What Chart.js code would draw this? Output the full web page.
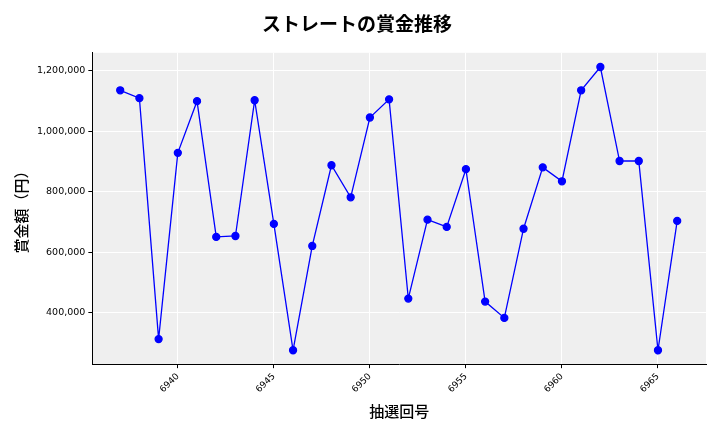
<!DOCTYPE html>
<html><head><meta charset="utf-8">
<script src="https://cdn.jsdelivr.net/npm/chart.js@4/dist/chart.umd.min.js"></script>
<style>body{margin:0;background:#fff}#wrap{width:720px;height:432px}</style>
</head><body><div id="wrap"><canvas id="c"></canvas></div>
<script>
const draws = [6937,6938,6939,6940,6941,6942,6943,6944,6945,6946,6947,6948,6949,6950,6951,6952,6953,6954,6955,6956,6957,6958,6959,6960,6961,6962,6963,6964,6965,6966];
const prizes = [1136000,1110000,313000,929000,1100000,651000,654000,1103000,694000,276000,621000,888000,782000,1046000,1106000,447000,708000,684000,875000,437000,383000,678000,881000,835000,1136000,1213000,902000,902000,276000,704000];

const bgPlugin = {
    id: 'bg',
    beforeDraw(chart) {
        const a = chart.chartArea, ctx = chart.ctx;
        ctx.save();
        ctx.fillStyle = '#efefef';
        ctx.fillRect(a.left, a.top, a.right - a.left, a.bottom - a.top);
        ctx.restore();
    }
};

new Chart(document.getElementById('c'), {
    type: 'line',
    data: {
        datasets: [{
            data: draws.map((d, i) => ({ x: d, y: prizes[i] })),
            borderColor: '#0000ff',
            backgroundColor: '#0000ff',
            borderWidth: 1.3,
            pointRadius: 3.5,
            tension: 0
        }]
    },
    options: {
        responsive: true,
        maintainAspectRatio: false,
        animation: false,
        layout: { padding: { left: 8, right: 14, top: 12, bottom: 8 } },
        plugins: {
            legend: { display: false },
            title: {
                display: true,
                text: 'ストレートの賞金推移',
                color: '#000',
                font: { family: 'Noto Sans CJK JP', size: 19, weight: 'bold' },
                padding: { bottom: 18 }
            }
        },
        scales: {
            x: {
                type: 'linear',
                min: 6935.55,
                max: 6967.5,
                grid: { color: '#ffffff', drawTicks: true, tickColor: '#000', tickLength: 4 },
                border: { color: '#000' },
                ticks: {
                    stepSize: 5,
                    color: '#000',
                    maxRotation: 45, minRotation: 45,
                    font: { family: 'DejaVu Sans', size: 9 },
                    callback: v => (v % 5 === 0 ? String(v) : '')
                },
                afterBuildTicks: s => { s.ticks = [6940,6945,6950,6955,6960,6965].map(v => ({ value: v })); },
                title: { display: true, text: '抽選回号', color: '#000', font: { family: 'Noto Sans CJK JP', size: 15, weight: '500' } }
            },
            y: {
                min: 230000,
                max: 1260000,
                grid: { color: '#ffffff', tickColor: '#000', tickLength: 4 },
                border: { color: '#000' },
                afterBuildTicks: s => { s.ticks = [400000,600000,800000,1000000,1200000].map(v => ({ value: v })); },
                ticks: {
                    color: '#000',
                    font: { family: 'DejaVu Sans', size: 9.5 },
                    callback: v => v.toLocaleString('en-US')
                },
                title: { display: true, text: '賞金額（円）', color: '#000', font: { family: 'Noto Sans CJK JP', size: 15, weight: '500' } }
            }
        }
    },
    plugins: [bgPlugin]
});
</script></body></html>
